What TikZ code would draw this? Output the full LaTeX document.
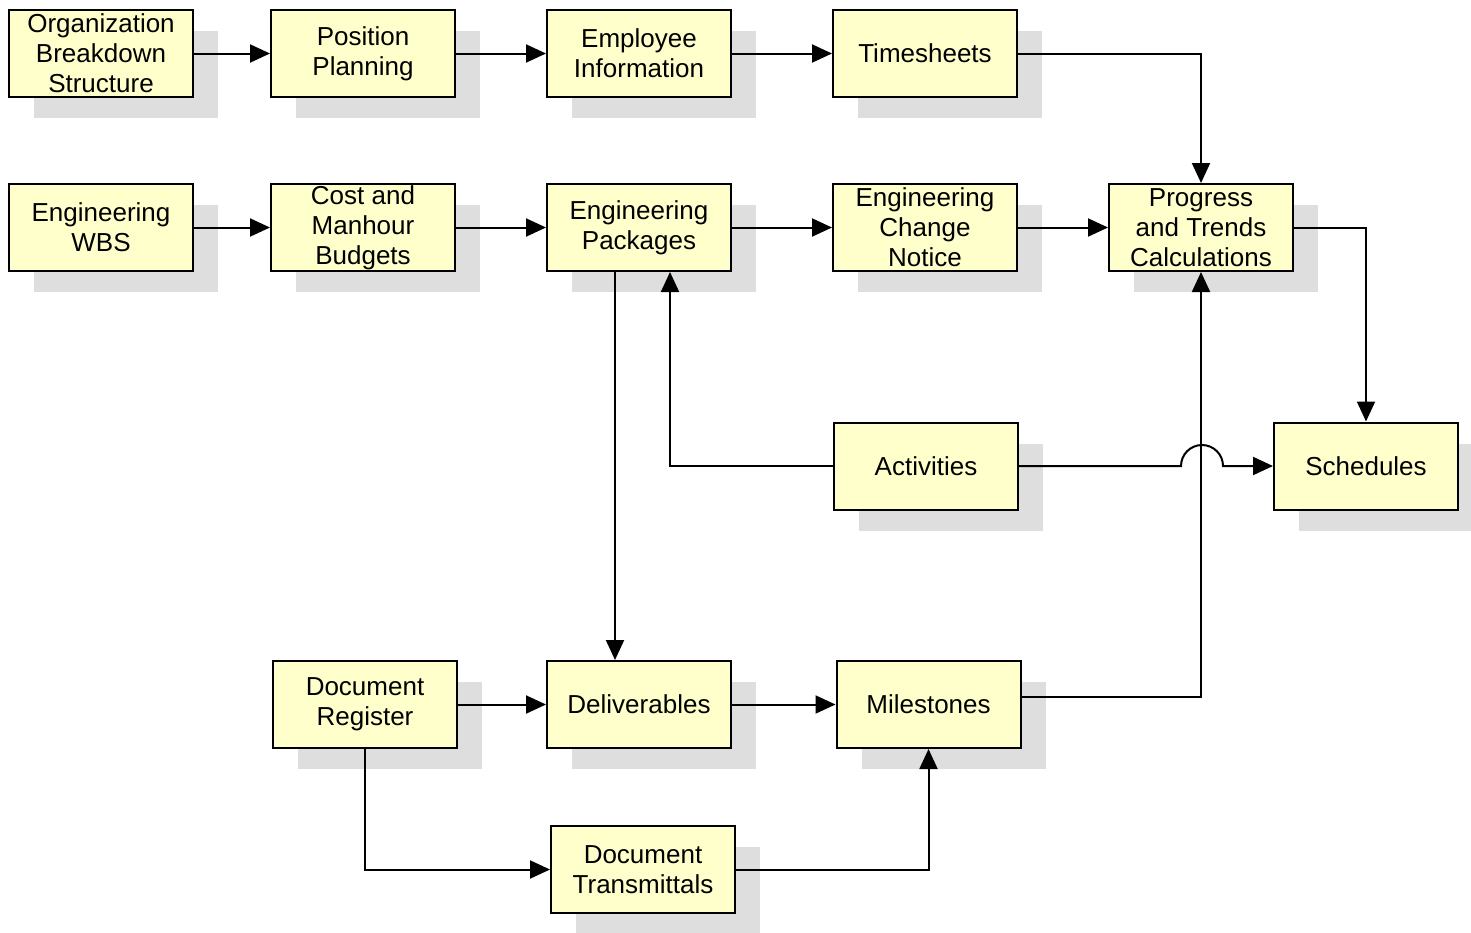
\documentclass[tikz,border=0pt]{standalone}
\usepackage{fontspec}
\setmainfont{Liberation Sans}
\usetikzlibrary{arrows.meta,shadows,calc}
\definecolor{boxfill}{RGB}{255,255,204}
\definecolor{shadowgray}{RGB}{222,222,222}
\begin{document}
\begin{tikzpicture}[x=1pt,y=-1pt,
  box/.style={draw=black,line width=2pt,fill=boxfill,minimum width=184pt,minimum height=87pt,
    align=center,inner sep=0pt,font=\fontsize{26}{30}\selectfont,
    general shadow={fill=shadowgray,shadow xshift=25pt,shadow yshift=-21pt}},
  arr/.style={line width=2pt,-{Triangle[length=20pt,width=18pt]}}]
\useasboundingbox (0,0) rectangle (1471,932);
% row 1
\node[box] (obs) at (101,53.5) {Organization\\Breakdown\\Structure};
\node[box] (pp) at (363,53.5) {Position\\Planning};
\node[box] (ei) at (639,53.5) {Employee\\Information};
\node[box] (ts) at (925,53.5) {Timesheets};
% row 2
\node[box] (ewbs) at (101,227.5) {Engineering\\WBS};
\node[box] (cmb) at (363,227.5) {Cost and\\Manhour\\Budgets};
\node[box] (ep) at (639,227.5) {Engineering\\Packages};
\node[box] (ecn) at (925,227.5) {Engineering\\Change\\Notice};
\node[box] (ptc) at (1201,227.5) {Progress\\and Trends\\Calculations};
% row 3
\node[box] (act) at (926,466) {Activities};
\node[box] (sch) at (1366,466) {Schedules};
% row 4
\node[box] (dr) at (365,704.5) {Document\\Register};
\node[box] (del) at (639,704.5) {Deliverables};
\node[box] (mil) at (928.5,704.5) {Milestones};
% row 5
\node[box] (dt) at (643,869.5) {Document\\Transmittals};
% connectors
\draw[arr] (obs) -- (pp);
\draw[arr] (pp) -- (ei);
\draw[arr] (ei) -- (ts);
\draw[arr] (ts.east) -| (ptc.north);
\draw[arr] (ewbs) -- (cmb);
\draw[arr] (cmb) -- (ep);
\draw[arr] (ep) -- (ecn);
\draw[arr] (ecn) -- (ptc);
\draw[arr] (ptc.east) -| (sch.north);
\draw[arr] ([xshift=-24pt]ep.south) -- ([xshift=-24pt]del.north);
\draw[arr] (act.west) -| ([xshift=31pt]ep.south);
\coordinate (j1) at (1181,466);
\coordinate (j2) at (1223,466);
\draw[arr] (act.east) -- (j1) .. controls (1181,454.4) and (1190.4,445) .. (1202,445)
  .. controls (1213.6,445) and (1223,454.4) .. (j2) -- (sch.west);
\draw[arr] ([yshift=7.5pt]mil.east) -| (ptc.south);
\draw[arr] (dr) -- (del);
\draw[arr] (del) -- (mil);
\draw[arr] (dr.south) |- (dt.west);
\draw[arr] (dt.east) -| (mil.south);
\end{tikzpicture}
\end{document}
